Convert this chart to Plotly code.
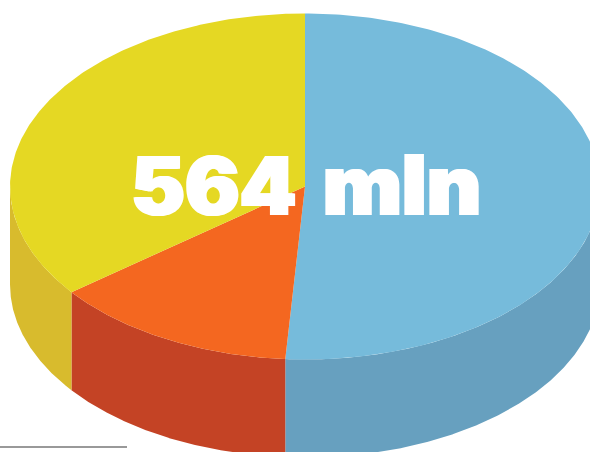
import numpy as np
import plotly.graph_objects as go

# Audience split, in millions, clockwise from twelve o'clock
segments = ["Blue", "Orange", "Yellow"]
values = [288, 76, 200]
top_colors = ["#76BBDB", "#F46720", "#E5D823"]
side_colors = ["#67A0BF", "#C44325", "#D8BB2D"]
total_figure = "564"
total_unit = "mln"

# Disc geometry in page pixels
CX, CY, RX, RY, DEPTH = 305.0, 186.5, 295.0, 173.0, 98.0


def rim(a0, a1, n=240):
    t = np.linspace(a0, a1, n)
    return CX + RX * np.sin(t), CY - RY * np.cos(t)


fig = go.Figure()
edges = np.concatenate([[0], np.cumsum(values)]) / sum(values) * 2 * np.pi

# Side walls first: only the part of each slice on the front half is visible
for a0, a1, colour in zip(edges[:-1], edges[1:], side_colors):
    lo, hi = max(a0, np.pi / 2), min(a1, 3 * np.pi / 2)
    if hi <= lo:
        continue
    x, y = rim(lo, hi)
    fig.add_trace(go.Scatter(
        x=np.concatenate([x, x[::-1]]),
        y=np.concatenate([y, y[::-1] + DEPTH]),
        mode="lines", fill="toself", fillcolor=colour,
        line=dict(width=0), hoverinfo="skip", showlegend=False,
    ))

# Top face wedges
for name, a0, a1, colour in zip(segments, edges[:-1], edges[1:], top_colors):
    x, y = rim(a0, a1)
    fig.add_trace(go.Scatter(
        x=np.concatenate([[CX], x, [CX]]),
        y=np.concatenate([[CY], y, [CY]]),
        mode="lines", fill="toself", fillcolor=colour,
        line=dict(width=0), name=name, showlegend=False,
    ))

# Hard-edged horizontal offsets thicken the stems of the heaviest installed weight
fig.add_annotation(
    x=306, y=184, xref="x", yref="y",
    text=f'<span style="font-size:81px;word-spacing:10px">{total_figure} </span>{total_unit}',
    showarrow=False,
    font=dict(family="Inter, Roboto, sans-serif", size=84, color="white", weight=900,
              shadow="1.5px 0 0 white, -1.5px 0 0 white"),
)

# Short rule under the disc
fig.add_shape(type="line", x0=0, x1=127, y0=447, y1=447, xref="x", yref="y",
              line=dict(color="#777777", width=1.5))

fig.update_layout(
    width=590, height=452, margin=dict(l=0, r=0, t=0, b=0),
    paper_bgcolor="white", plot_bgcolor="white",
    xaxis=dict(range=[0, 590], visible=False, fixedrange=True),
    yaxis=dict(range=[452, 0], visible=False, fixedrange=True),
)
fig.write_html("out.html", config=dict(displayModeBar=False))
